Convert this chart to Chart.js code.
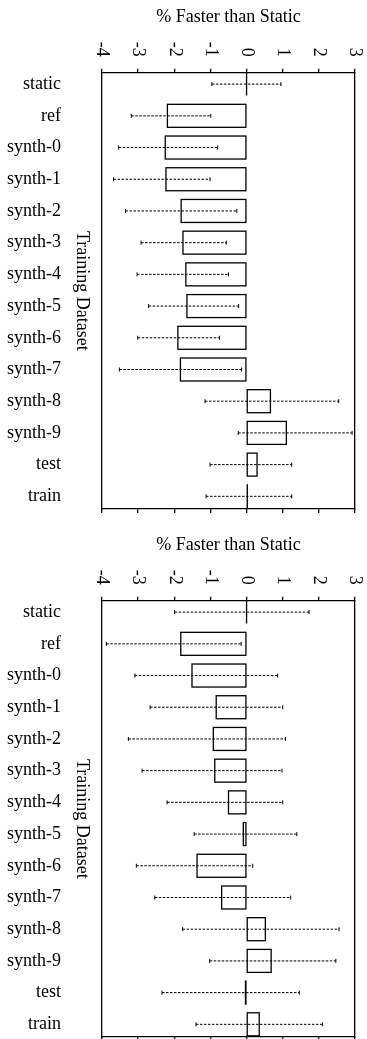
<!DOCTYPE html>
<html>
<head>
<meta charset="utf-8">
<title>% Faster than Static</title>
<script src="https://cdn.jsdelivr.net/npm/chart.js@4.4.0/dist/chart.umd.min.js"></script>
<style>
  html, body { margin: 0; padding: 0; background: #fff; overflow: hidden; }
  .panel { position: absolute; left: 0; width: 367px; height: 528px; }
</style>
</head>
<body>
<div class="panel" style="top:0"><canvas id="chartTop"></canvas></div>
<div class="panel" style="top:528px"><canvas id="chartBottom"></canvas></div>
<script>
const categories = ['static', 'ref', 'synth-0', 'synth-1', 'synth-2', 'synth-3', 'synth-4',
  'synth-5', 'synth-6', 'synth-7', 'synth-8', 'synth-9', 'test', 'train'];
const xTicks = [-4, -3, -2, -1, 0, 1, 2, 3];
const axisTitle = '% Faster than Static';
const rowTitle = 'Training Dataset';

// upper panel: mean and error range per dataset
const meanTop = [0, -2.19, -2.25, -2.23, -1.81, -1.76, -1.68, -1.65, -1.90, -1.83, 0.66, 1.10, 0.29, 0.02];
const lowTop = [-0.96, -3.19, -3.54, -3.68, -3.35, -2.92, -3.03, -2.71, -3.01, -3.52, -1.15, -0.23, -1.01, -1.12];
const highTop = [0.95, -0.99, -0.80, -1.01, -0.27, -0.56, -0.50, -0.22, -0.75, -0.14, 2.55, 2.92, 1.25, 1.25];

// lower panel
const meanBottom = [0, -1.82, -1.51, -0.84, -0.92, -0.88, -0.50, -0.09, -1.37, -0.69, 0.52, 0.68, -0.03, 0.35];
const lowBottom = [-1.99, -3.88, -3.09, -2.67, -3.27, -2.89, -2.20, -1.45, -3.05, -2.54, -1.77, -1.02, -2.34, -1.40];
const highBottom = [1.73, -0.15, 0.86, 1.00, 1.08, 0.98, 1.00, 1.39, 0.17, 1.22, 2.56, 2.47, 1.46, 2.10];

const SERIF = '"Liberation Serif", "Times New Roman", serif';
const FONT = '18px ' + SERIF;

// outlines, dashed error bars, rotated tick labels and the row title
const decorations = {
  id: 'decorations',
  afterDatasetsDraw(chart, args, opts) {
    const ctx = chart.ctx;
    const x = chart.scales.x;
    const y = chart.scales.y;
    const area = chart.chartArea;
    ctx.save();

    // bar boxes (stroked here so zero-length bars still show as a line)
    ctx.strokeStyle = '#000';
    ctx.lineWidth = 1.3;
    chart.getDatasetMeta(0).data.forEach((bar) => {
      const p = bar.getProps(['x', 'y', 'base', 'height'], true);
      ctx.strokeRect(Math.min(p.x, p.base), p.y - p.height / 2, Math.abs(p.x - p.base), p.height);
    });

    // error ranges
    ctx.lineWidth = 1;
    opts.low.forEach((lo, i) => {
      const cy = y.getPixelForValue(i);
      const x1 = x.getPixelForValue(lo);
      const x2 = x.getPixelForValue(opts.high[i]);
      ctx.setLineDash([2.5, 1.5]);
      ctx.beginPath();
      ctx.moveTo(x1, cy);
      ctx.lineTo(x2, cy);
      ctx.stroke();
      ctx.setLineDash([]);
      ctx.beginPath();
      ctx.moveTo(x1, cy - 2);
      ctx.lineTo(x1, cy + 2);
      ctx.moveTo(x2, cy - 2);
      ctx.lineTo(x2, cy + 2);
      ctx.stroke();
    });

    ctx.fillStyle = '#000';
    ctx.font = FONT;
    ctx.textBaseline = 'middle';

    // x tick labels, turned a quarter clockwise
    x.ticks.forEach((t) => {
      ctx.save();
      ctx.translate(x.getPixelForValue(t.value), area.top - 16);
      ctx.rotate(Math.PI / 2);
      ctx.textAlign = 'right';
      ctx.fillText(String(t.value), 0, 0);
      ctx.restore();
    });

    // row title between the category names and the plot
    ctx.translate(area.left - 20, (area.top + area.bottom) / 2);
    ctx.rotate(Math.PI / 2);
    ctx.textAlign = 'center';
    ctx.fillText(rowTitle, 0, 0);
    ctx.restore();
  }
};

const xAxis = (position) => ({
  type: 'linear',
  position: position,
  min: -4,
  max: 3,
  afterBuildTicks: (s) => { s.ticks = xTicks.map((v) => ({ value: v })); },
  ticks: { display: false },
  grid: { drawOnChartArea: false, drawTicks: true, tickLength: 4, color: '#000', lineWidth: 1.3 },
  border: { display: true, color: '#000', width: 1.3 }
});

function makeChart(id, mean, low, high) {
  return new Chart(document.getElementById(id), {
    type: 'bar',
    data: {
      datasets: [{
        data: mean.map((v, i) => ({ x: v, y: i })),
        xAxisID: 'x',
        yAxisID: 'y',
        backgroundColor: 'rgba(0,0,0,0)',
        borderWidth: 0,
        barThickness: 23
      }]
    },
    options: {
      indexAxis: 'y',
      responsive: true,
      maintainAspectRatio: false,
      animation: false,
      events: [],
      layout: { padding: { left: 0, right: 12, top: 0, bottom: 15 } },
      scales: {
        x: xAxis('top'),
        x2: xAxis('bottom'),
        y: {
          type: 'linear',
          reverse: true,
          offset: false,
          min: -0.36,
          max: 13.4,
          afterBuildTicks: (s) => { s.ticks = categories.map((c, i) => ({ value: i })); },
          afterFit: (s) => {
            // fixed gutter for the names; the label padding must not push the plot edges
            s.width = 102;
            s.paddingTop = 0;
            s.paddingBottom = 0;
          },
          ticks: {
            padding: 41,
            color: '#000',
            font: { family: SERIF, size: 18 },
            callback: (v) => categories[v]
          },
          grid: { display: false, drawTicks: false },
          border: { display: true, color: '#000', width: 1.3 }
        },
        y2: {
          type: 'linear',
          position: 'right',
          min: 0,
          max: 1,
          ticks: { display: false },
          grid: { display: false, drawTicks: false },
          border: { display: true, color: '#000', width: 1.3 }
        }
      },
      plugins: {
        legend: { display: false },
        tooltip: { enabled: false },
        title: {
          display: true,
          text: axisTitle,
          fullSize: false,
          color: '#000',
          font: { family: SERIF, size: 18, weight: 'normal', lineHeight: 1.2 },
          padding: { top: 6, bottom: 41.1 }
        },
        decorations: { low: low, high: high }
      }
    },
    plugins: [decorations]
  });
}

makeChart('chartTop', meanTop, lowTop, highTop);
makeChart('chartBottom', meanBottom, lowBottom, highBottom);
</script>
</body>
</html>
